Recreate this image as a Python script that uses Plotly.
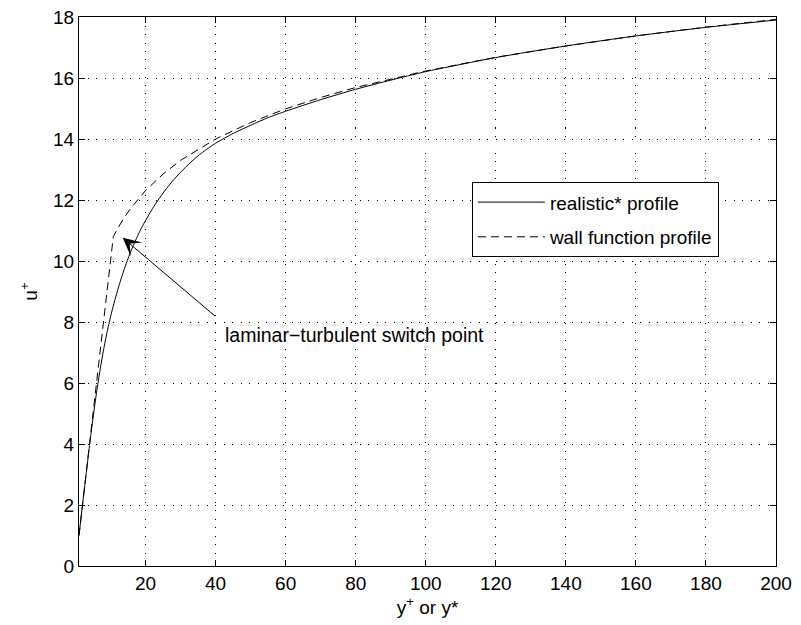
import plotly.graph_objects as go

# realistic* profile
real_y = [1, 2, 3, 4, 5, 6, 7, 8, 9, 10, 11, 12, 13, 14, 15, 16, 17, 18, 19, 20,
          22, 24, 26, 28, 30, 33, 36, 40, 45, 50, 55, 60, 70, 80, 90, 100, 120,
          140, 160, 180, 200]
real_u = [1.0, 2.0, 2.98, 3.95, 4.85, 5.68, 6.42, 7.08, 7.66, 8.17, 8.62, 9.03,
          9.41, 9.76, 10.08, 10.37, 10.64, 10.89, 11.12, 11.33, 11.72, 12.07,
          12.38, 12.66, 12.91, 13.25, 13.54, 13.86, 14.18, 14.45, 14.7, 14.91,
          15.29, 15.63, 15.93, 16.21, 16.67, 17.05, 17.38, 17.66, 17.9]

# wall function profile
wall_y = [1, 10.8, 12, 14, 16, 20, 25, 30, 40, 50, 60, 70, 80, 90, 100, 120, 140,
          160, 180, 200]
wall_u = [1.0, 10.8, 11.06, 11.44, 11.76, 12.31, 12.85, 13.3, 14.0, 14.54, 14.99,
          15.36, 15.69, 15.97, 16.23, 16.68, 17.05, 17.38, 17.67, 17.92]

x_ticks = [20, 40, 60, 80, 100, 120, 140, 160, 180, 200]
y_ticks = [0, 2, 4, 6, 8, 10, 12, 14, 16, 18]

FONT = "Liberation Sans, Arial, sans-serif"

fig = go.Figure()
fig.add_trace(go.Scatter(x=real_y, y=real_u, mode="lines", name="realistic* profile",
                         legendgroup="a",
                         line=dict(color="black", width=1, shape="spline", smoothing=0.6)))
fig.add_trace(go.Scatter(x=wall_y, y=wall_u, mode="lines", name="wall function profile",
                         legendgroup="b",
                         line=dict(color="black", width=1, dash="8px,5px")))

fig.add_annotation(x=13.5, y=10.76, ax=40.3, ay=8.15, xref="x", yref="y",
                   axref="x", ayref="y", text="", showarrow=True,
                   arrowhead=3, arrowsize=3, arrowwidth=1, arrowcolor="black")
fig.add_annotation(x=42.0, y=7.57, xref="x", yref="y", text="laminar\u2212turbulent switch point",
                   showarrow=False, xanchor="left", yanchor="middle",
                   font=dict(family=FONT, size=19.5, color="black"))

axis_common = dict(
    showline=True, linecolor="black", linewidth=1, mirror="ticks",
    ticks="inside", ticklen=6, tickcolor="black", tickwidth=1,
    showgrid=True, gridcolor="black", gridwidth=1, griddash="1px,7.5px",
    zeroline=False, tickfont=dict(family=FONT, size=19, color="black"),
    automargin=False, ticklabeloverflow="allow",
)

fig.update_xaxes(range=[1, 200], tickvals=x_ticks, **axis_common,
                 title=dict(text="y<sup>+</sup> or y*", font=dict(family=FONT, size=19, color="black"),
                            standoff=6))
fig.update_yaxes(range=[0, 18], tickvals=y_ticks, **axis_common,
                 title=dict(text="u<sup>+</sup>", font=dict(family=FONT, size=19, color="black"),
                            standoff=10))

fig.update_layout(
    width=793, height=617,
    margin=dict(l=71, r=25, t=9, b=59, autoexpand=False),
    plot_bgcolor="white", paper_bgcolor="white",
    showlegend=True,
    legend=dict(x=0.5637, y=0.699, xanchor="left", yanchor="top",
                bgcolor="white", bordercolor="black", borderwidth=1,
                font=dict(family=FONT, size=19, color="black"),
                traceorder="grouped", tracegroupgap=7, itemwidth=67),
    font=dict(family=FONT, color="black"),
)

fig.write_html("out.html")
